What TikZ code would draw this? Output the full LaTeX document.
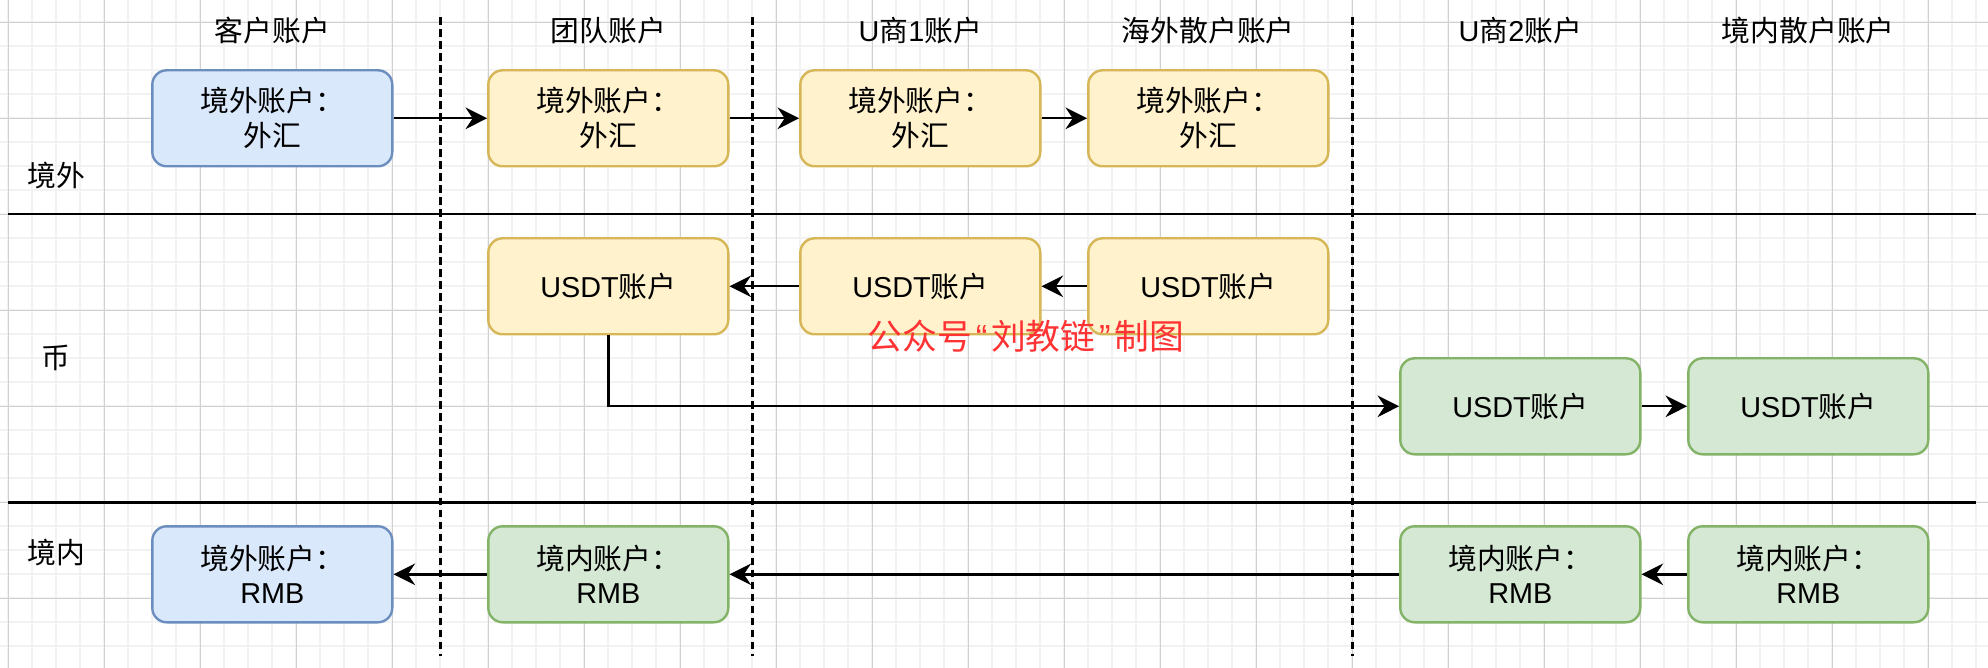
\documentclass[tikz,border=0pt]{standalone}
\usepackage{fontspec}
\setmainfont{Noto Sans CJK SC}
\newfontfamily\latinfont{Liberation Sans}
\usetikzlibrary{arrows.meta,positioning}
\definecolor{bluefill}{HTML}{DAE8FC}
\definecolor{bluedraw}{HTML}{6C8EBF}
\definecolor{yellowfill}{HTML}{FFF2CC}
\definecolor{yellowdraw}{HTML}{D6B656}
\definecolor{greenfill}{HTML}{D5E8D4}
\definecolor{greendraw}{HTML}{82B366}
\definecolor{gridminor}{HTML}{F2F2F2}
\definecolor{gridmajor}{HTML}{D0D0D0}
\definecolor{markred}{HTML}{FF3333}
\newcommand{\eng}[1]{{\latinfont #1}}

\begin{document}
\begin{tikzpicture}[x=1pt,y=-1pt,
	acct/.style={draw,rounded corners=6pt,line width=1pt,minimum width=100pt,minimum height=40pt,
		inner sep=0pt,align=center,font=\fontsize{12}{14.5}\selectfont},
	acctblue/.style={acct,fill=bluefill,draw=bluedraw},
	acctyellow/.style={acct,fill=yellowfill,draw=yellowdraw},
	acctgreen/.style={acct,fill=greenfill,draw=greendraw},
	colhead/.style={font=\fontsize{12}{14.5}\selectfont},
	flow/.style={line width=1pt,-{Stealth[length=9pt,width=9pt,inset=3pt]}},
	lane/.style={line width=1pt},
	divider/.style={line width=1pt,dash pattern=on 3pt off 2pt}]
	\useasboundingbox (-3.46,-9.29) rectangle (824.87,269);
	% grid
	\foreach \gx in {0,10,...,820} \draw[gridminor,line width=0.9pt] (\gx,-9.29) -- (\gx,269);
	\foreach \gy in {0,10,...,260} \draw[gridminor,line width=0.9pt] (-3.46,\gy) -- (824.87,\gy);
	\foreach \gx in {0,40,...,800} \draw[gridmajor,line width=0.45pt] (\gx,-9.29) -- (\gx,269);
	\foreach \gy in {0,40,...,240} \draw[gridmajor,line width=0.45pt] (-3.46,\gy) -- (824.87,\gy);

	% column heads
	\node[colhead] (hkh) at (110,3.5) {客户账户};
	\node[colhead] (htd) at (250,3.5) {团队账户};
	\node[colhead] (hu1) at (380,3.5) {\eng{U}商\eng{1}账户};
	\node[colhead] (hhw) at (500,3.5) {海外散户账户};
	\node[colhead] (hu2) at (630,3.5) {\eng{U}商\eng{2}账户};
	\node[colhead] (hjn) at (750,3.5) {境内散户账户};

	% lanes
	\node[colhead] (ljw) at (20,64) {境外};
	\node[colhead] (lbi) at (20,140) {币};
	\node[colhead] (ljn) at (20,221) {境内};
	\coordinate (s1a) at (0,80);
	\coordinate (s1b) at (820,80);
	\coordinate (s2a) at (0,200);
	\coordinate (s2b) at (820,200);
	\draw[lane] (s1a)--(s1b);
	\draw[lane] (s2a)--(s2b);

	% dashed dividers
	\foreach \dx/\dn in {180/da,310/db,560/dc} {
		\coordinate (\dn top) at (\dx,-2);
		\coordinate (\dn bot) at (\dx,264);
		\draw[divider] (\dn top)--(\dn bot);
	}

	% accounts
	\node[acctblue] (kwh) at (110,40) {境外账户：\\外汇};
	\node[acctyellow] (twh) at (250,40) {境外账户：\\外汇};
	\node[acctyellow] (u1wh) at (380,40) {境外账户：\\外汇};
	\node[acctyellow] (hwwh) at (500,40) {境外账户：\\外汇};
	\node[acctyellow] (tusdt) at (250,110) {\eng{USDT}账户};
	\node[acctyellow] (u1usdt) at (380,110) {\eng{USDT}账户};
	\node[acctyellow] (hwusdt) at (500,110) {\eng{USDT}账户};
	\node[acctgreen] (u2usdt) at (630,160) {\eng{USDT}账户};
	\node[acctgreen] (jnusdt) at (750,160) {\eng{USDT}账户};
	\node[acctblue] (krmb) at (110,230) {境外账户：\\\eng{RMB}};
	\node[acctgreen] (trmb) at (250,230) {境内账户：\\\eng{RMB}};
	\node[acctgreen] (u2rmb) at (630,230) {境内账户：\\\eng{RMB}};
	\node[acctgreen] (jnrmb) at (750,230) {境内账户：\\\eng{RMB}};

	% flows
	\draw[flow] (kwh)--(twh);
	\draw[flow] (twh)--(u1wh);
	\draw[flow] (u1wh)--(hwwh);
	\draw[flow] (hwusdt)--(u1usdt);
	\draw[flow] (u1usdt)--(tusdt);
	\draw[flow] (tusdt.south) |- (u2usdt.west);
	\draw[flow] (u2usdt)--(jnusdt);
	\draw[flow] (jnrmb)--(u2rmb);
	\draw[flow] (u2rmb)--(trmb);
	\draw[flow] (trmb)--(krmb);

	\node[text=markred,font=\fontsize{14.5}{17}\selectfont] (mark) at (424,131)
		{公众号\kern1.5pt\eng{“}\kern1.5pt 刘教链\kern1.5pt\eng{”}\kern1.5pt 制图};
\end{tikzpicture}
\end{document}
